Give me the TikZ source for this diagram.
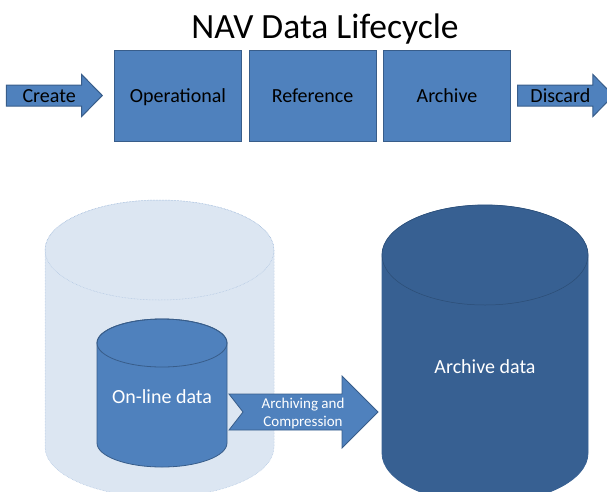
\documentclass[tikz,border=0pt]{standalone}
\usepackage{fontspec}
\setmainfont{Carlito}
\usetikzlibrary{arrows,positioning,shapes.arrows}
\definecolor{boxblue}{HTML}{4F81BD}
\definecolor{boxline}{HTML}{385D8A}
\definecolor{darkblue}{HTML}{376092}
\definecolor{paleblue}{HTML}{DCE6F2}
\definecolor{paleline}{HTML}{A7BFDE}

\begin{document}
\begin{tikzpicture}[x=1pt,y=-1pt,node distance=6.5pt,every node/.append style={align=center},
    stage/.style={draw=boxline, line width=1pt, fill=boxblue, minimum width=127pt, minimum height=91pt, inner sep=0pt, text height=13pt, text depth=0pt, font=\fontsize{20}{24}\selectfont},
    flow/.style={single arrow, draw=boxline, line width=1pt, fill=boxblue, minimum height=96pt, single arrow head extend=10.5pt, single arrow tip angle=91, inner ysep=3.5pt, text height=13pt, text depth=0pt, font=\fontsize{20}{24}\selectfont},
    db/.style={draw=boxline, fill=boxblue, line width=0.8pt},
    dbtext/.style={text=white, font=\fontsize{20}{24}\selectfont}]
                \useasboundingbox (0,0) rectangle (607,491);
                \node (title) at (325,29) {\fontsize{35.5}{42}\selectfont NAV Data Lifecycle};
                \node [stage] (op) at (178,95.5) {Operational};
                \node [stage, right=of op] (ref) {Reference};
                \node [stage, right=of ref] (arc) {Archive};
                \node [flow, left=11pt of op] (create) {Create};
                \node [flow, right=6pt of arc] (discard) {Discard};
                % storage cylinders
                \draw [db, fill=paleblue, draw=paleline, line width=0.5pt, densely dotted] (45,250) -- (45,447) arc[start angle=180, end angle=0, x radius=114.5, y radius=50] -- (274,250) arc[start angle=0, end angle=-180, x radius=114.5, y radius=50] -- cycle;
                \draw [paleline, line width=0.5pt, densely dotted] (159.5,250) ellipse[x radius=114.5, y radius=50];
                \draw [db] (97,343) -- (97,443) arc[start angle=180, end angle=0, x radius=65, y radius=24] -- (227,343) arc[start angle=0, end angle=-180, x radius=65, y radius=24] -- cycle;
                \draw [boxline, line width=0.8pt] (162,343) ellipse[x radius=65, y radius=24];
                \draw [db, fill=darkblue, draw=darkblue] (382,255) -- (382,453) arc[start angle=180, end angle=0, x radius=103, y radius=50] -- (588,255) arc[start angle=0, end angle=-180, x radius=103, y radius=50] -- cycle;
                \draw [darkblue!80!black, line width=0.5pt] (485,255) ellipse[x radius=103, y radius=50];
                \node [dbtext] (online) at (162,397) {On-line data};
                \node [dbtext] (archive) at (485,367) {Archive data};
                \coordinate (tail) at (229,412);
                \draw [fill=boxblue, draw=boxline, line width=0.8pt] (tail) ++(0,-18) -- ++(113,0) -- ++(0,-18) -- ++(36,36) -- ++(-36,36) -- ++(0,-18) -- ++(-113,0) -- ++(14,-18) -- cycle;
                \node [text=white, font=\fontsize{15}{18}\selectfont] (arrtxt) at (303,413) {Archiving and\\Compression};
            \end{tikzpicture}
\end{document}
